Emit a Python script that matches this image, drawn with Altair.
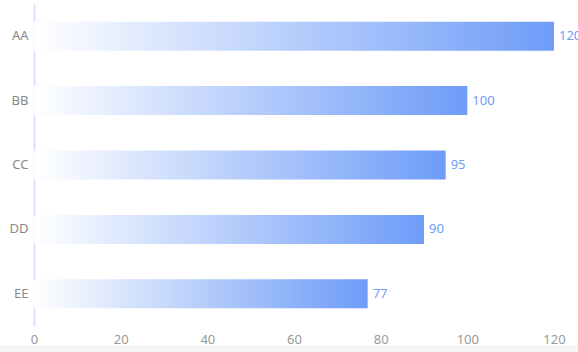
import altair as alt
import pandas as pd

categories = ["AA", "BB", "CC", "DD", "EE"]
values = [120, 100, 95, 90, 77]

df = pd.DataFrame({"cat": categories, "val": values})

FONT = "Noto Sans"

x_enc = alt.X("val:Q", scale=alt.Scale(domain=[0, 120], nice=False),
              axis=alt.Axis(values=[0, 20, 40, 60, 80, 100, 120], grid=False, domain=False,
                            ticks=False, labelColor="#999999", labelFontSize=13, labelFont=FONT,
                            labelPadding=7, title=None, labelFlush=False))
y_enc = alt.Y("cat:N", sort=categories,
              scale=alt.Scale(paddingInner=0.55, paddingOuter=0.275),
              axis=alt.Axis(domain=True, domainColor="#cfdcfb", domainWidth=1.5, ticks=False,
                            grid=False, labelColor="#888888", labelFontSize=13, labelFont=FONT,
                            labelPadding=6, title=None))

grad = alt.Gradient(
    gradient="linear",
    stops=[alt.GradientStop(color="#ffffff", offset=0),
           alt.GradientStop(color="#6e9cf8", offset=1)],
    x1=0, x2=1, y1=0, y2=0,
)

bars = alt.Chart(df).mark_bar(fill=grad, cornerRadius=0).encode(x=x_enc, y=y_enc)

labels = alt.Chart(df).mark_text(align="left", baseline="middle", dx=5, fontSize=13,
                                 font=FONT, color="#6e9cf8").encode(
    x="val:Q", y=alt.Y("cat:N", sort=categories), text="val:Q")

strip = alt.Chart(df).mark_rect(color="#f5f5f7").encode(
    x=alt.value(-34), x2=alt.value(560), y=alt.value(341), y2=alt.value(360))

chart = alt.layer(strip, bars, labels).properties(
    width=520, height=322,
    autosize=alt.AutoSizeParams(type="none"),
    padding={"left": 34, "top": 4, "right": 24, "bottom": 26},
    background="#ffffff",
).configure_view(stroke=None)

chart.save("out.html", embed_options={"renderer": "svg", "actions": False})
